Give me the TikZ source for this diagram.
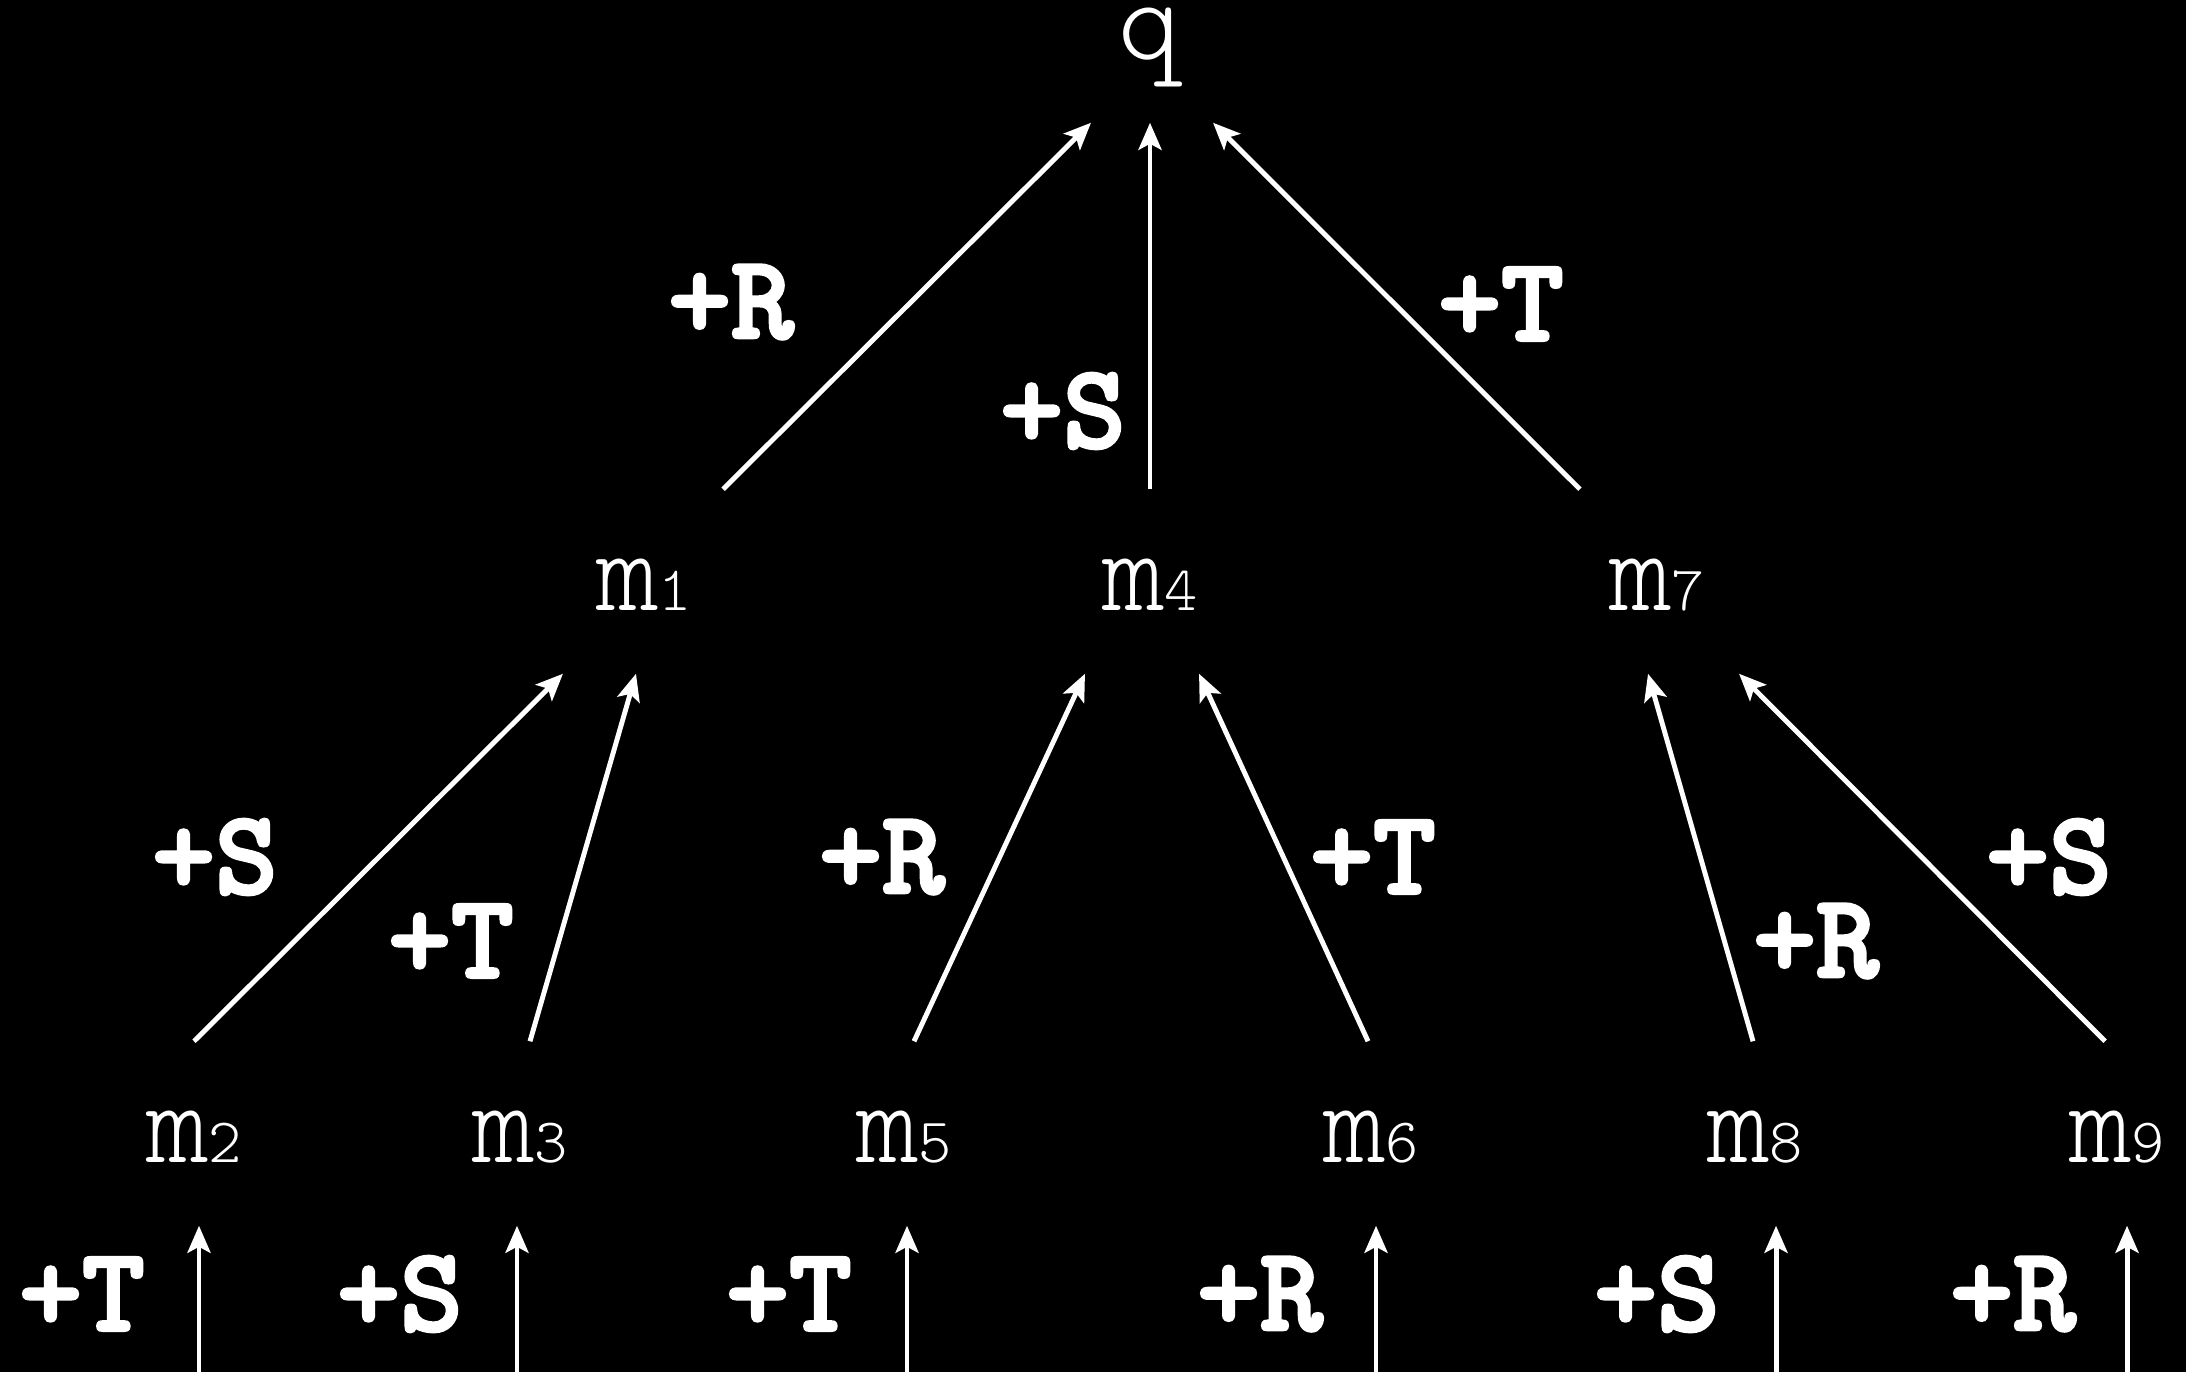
\documentclass[tikz,border=0pt]{standalone}
\usepackage{fontspec}
\newfontfamily\monobold[Path, FakeBold=2.6]{lmmonolt10-bold.otf}
\newfontfamily\monolight[Path]{lmmonolt10-regular.otf}
\usetikzlibrary{arrows.meta}
\newcommand{\mlab}[1]{m{\fontsize{18}{18}\selectfont#1}}

\begin{document}
\begin{tikzpicture}[x=0.01cm, y=-0.01cm,
  lbl/.style={font=\monolight\fontsize{34}{34}\selectfont, text=white, inner sep=0pt, text height=1.2cm, text depth=0.63cm, anchor=base},
  elab/.style={font=\monobold\fontsize{34}{34}\selectfont, text=white, inner sep=0pt},
  arr/.style={-{Stealth[length=0.27cm, width=0.23cm, inset=0.06cm]}, line width=1.4pt, white},
  feed/.style={{Stealth[length=0.27cm, width=0.23cm, inset=0.06cm]}-, line width=1.4pt, white}
]
  \useasboundingbox (0,0) rectangle (2186,1372);
  \fill[black] (0,0) rectangle (2186,1372);

  % ── root ──
  \node[lbl, text height=0.5cm] (q) at (1150,59) {q};

  % ── middle row ──
  \node[lbl] (m1) at (644,610) {\mlab{1}};
  \node[lbl] (m4) at (1150,610) {\mlab{4}};
  \node[lbl] (m7) at (1657,610) {\mlab{7}};

  % ── bottom row ──
  \node[lbl] (m2) at (194,1162) {\mlab{2}};
  \node[lbl] (m3) at (520,1162) {\mlab{3}};
  \node[lbl] (m5) at (904,1162) {\mlab{5}};
  \node[lbl] (m6) at (1371,1162) {\mlab{6}};
  \node[lbl] (m8) at (1755,1162) {\mlab{8}};
  \node[lbl] (m9) at (2117,1162) {\mlab{9}};

  % ── edges into q ──
  \draw[arr] ([xshift=0.79cm]m1.north) -- ([xshift=-0.59cm]q.south);
  \draw[arr] (m4.north) -- (q.south);
  \draw[arr] ([xshift=-0.77cm]m7.north) -- ([xshift=0.63cm]q.south);

  \node[elab] (r1q) at (731,302) {+R};
  \node[elab] (s4q) at (1063,411) {+S};
  \node[elab] (t7q) at (1501,304) {+T};

  % ── edges into middle row ──
  \draw[arr] (m2.north) -- ([xshift=-0.81cm]m1.south);
  \draw[arr] ([xshift=0.1cm]m3.north) -- ([xshift=-0.08cm]m1.south);
  \draw[arr] ([xshift=0.1cm]m5.north) -- ([xshift=-0.65cm]m4.south);
  \draw[arr] ([xshift=-0.03cm]m6.north) -- ([xshift=0.49cm]m4.south);
  \draw[arr] ([xshift=-0.02cm]m8.north) -- ([xshift=-0.09cm]m7.south);
  \draw[arr] ([xshift=-0.12cm]m9.north) -- ([xshift=0.82cm]m7.south);

  \node[elab] (s21) at (215,857) {+S};
  \node[elab] (t31) at (451,941) {+T};
  \node[elab] (r54) at (882,857) {+R};
  \node[elab] (t64) at (1373,857) {+T};
  \node[elab] (r87) at (1816,941) {+R};
  \node[elab] (s97) at (2049,857) {+S};

  % ── incoming from below ──
  \draw[feed] ([xshift=0.05cm]m2.south) -- ++(0,160);
  \draw[feed] ([xshift=-0.03cm]m3.south) -- ++(0,160);
  \draw[feed] ([xshift=0.03cm]m5.south) -- ++(0,160);
  \draw[feed] ([xshift=0.05cm]m6.south) -- ++(0,160);
  \draw[feed] ([xshift=0.21cm]m8.south) -- ++(0,160);
  \draw[feed] ([xshift=0.1cm]m9.south) -- ++(0,160);

  \node[elab] (t2) at (82,1294) {+T};
  \node[elab] (s3) at (400,1294) {+S};
  \node[elab] (t5) at (789,1294) {+T};
  \node[elab] (r6) at (1260,1294) {+R};
  \node[elab] (s8) at (1657,1294) {+S};
  \node[elab] (r9) at (2013,1294) {+R};
\end{tikzpicture}
\end{document}
